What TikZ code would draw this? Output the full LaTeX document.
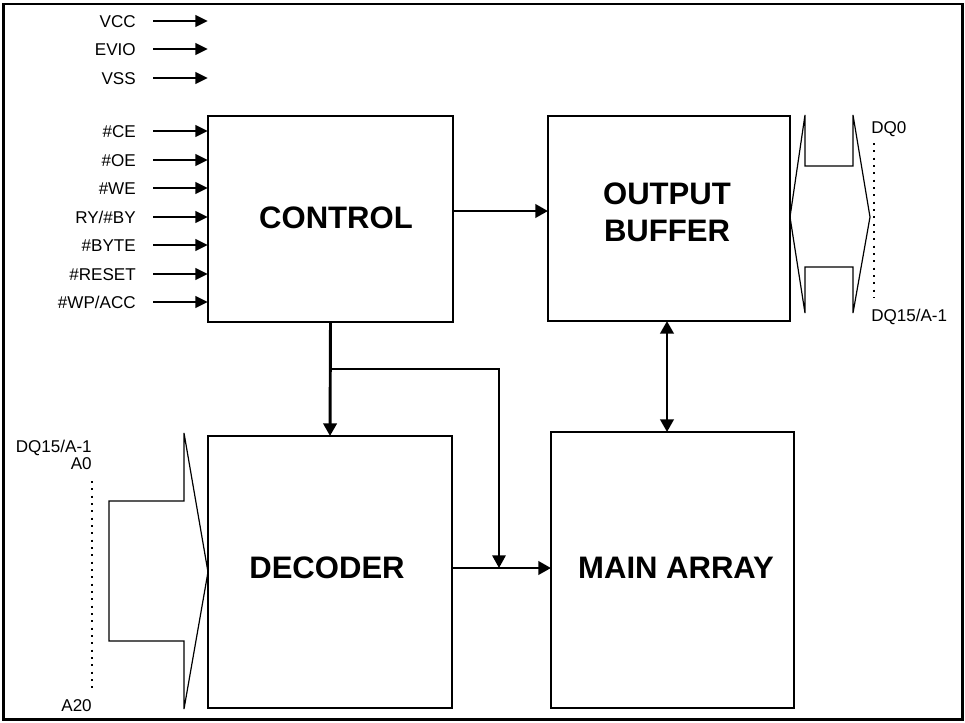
\documentclass[tikz,border=0pt]{standalone}
\usepackage{fontspec}
\setmainfont{Liberation Sans}
\usetikzlibrary{arrows.meta,calc}
\tikzset{
  box/.style={draw, line width=0.9pt, inner sep=0pt, outer sep=0pt},
  bigtxt/.style={font=\fontsize{23.3}{28}\selectfont\bfseries, align=center, inner sep=0pt},
  sig/.style={font=\fontsize{12.8}{15}\selectfont, inner sep=0pt, text height=9pt, text depth=0pt},
  inarr/.style={line width=2.2pt, -{Triangle[length=9.5pt,width=8.5pt]}},
  bigarr/.style={line width=2.2pt, -{Triangle[length=9.5pt,width=10pt]}},
  dblarr/.style={line width=2.2pt, {Triangle[length=9.5pt,width=10pt]}-{Triangle[length=9.5pt,width=10pt]}},
  branch/.style={line width=1.1pt},
  bus/.style={line width=0.9pt, line join=miter},
  dots/.style={line width=1.3pt, dash pattern=on 1.4pt off 4.1pt}
}
\begin{document}
\begin{tikzpicture}[x=0.75pt,y=-0.75pt]
\useasboundingbox (0,0) rectangle (965,722);
\draw[line width=1.7pt] (3.5,4) rectangle (962.5,719.5);

% blocks
\node[box, minimum width=183.75pt, minimum height=154.5pt] (ctrl) at (330.5,219) {};
\node[box, minimum width=181.5pt, minimum height=153.75pt] (obuf) at (669,218.5) {};
\node[box, minimum width=183pt, minimum height=204pt] (dec) at (330,572) {};
\node[box, minimum width=182.25pt, minimum height=207pt] (main) at (672.5,570) {};

\node[bigtxt] (ctrltxt) at (336,218) {CONTROL};
\node[bigtxt] (obuftxt) at (667,212) {OUTPUT\\BUFFER};
\node[bigtxt] (dectxt) at (327,568) {DECODER};
\node[bigtxt] (maintxt) at (676,568) {MAIN ARRAY};

% input signals
\foreach \n/\t/\y in {vcc/VCC/21, evio/EVIO/49, vss/VSS/78,
  ce/{\#CE}/131, oe/{\#OE}/160, we/{\#WE}/188, ry/{RY/\#BY}/217,
  byte/{\#BYTE}/245, reset/{\#RESET}/274, wp/{\#WP/ACC}/302}{
  \node[sig, anchor=east] (\n) at (136,\y) {\t};
  \draw[inarr] ([xshift=12.75pt]\n.east) -- (\n.east -| ctrl.west);
}

% internal connections
\coordinate (c2o) at (453,211);
\draw[bigarr] (c2o) -- (c2o -| obuf.west);
\draw[bigarr] (ctrl.south) -- (dec.north);
\coordinate (br) at (330,369);
\coordinate (d2m) at (452,568);
\coordinate (jn) at (499,568);
\draw[branch] (br) -| ($(jn)+(0,-20)$);
\draw[line width=1.6pt, -{Triangle[length=9.5pt,width=10pt]}] (499,380) -- (jn);
\draw[bigarr] (d2m) -- (d2m -| main.west);
\coordinate (om) at (667,321);
\draw[dblarr] (om |- obuf.south) -- (om |- main.north);

% right data bus
\draw[bus] (obuf.east |- 0,217) -- (805,115) -- (805,166) -- (853,166) -- (853,115)
  -- (870,217) -- (853,313) -- (853,267) -- (805,267) -- (805,313) -- cycle;
\node[sig, anchor=west] (dq0) at (871,127) {DQ0};
\node[sig, anchor=west] (dq15r) at (871,315) {DQ15/A-1};
\draw[dots] (874,143) -- (874,298);

% left address bus
\draw[bus] (184,433) -- (184,501) -- (109,501) -- (109,641) -- (184,641) -- (184,709)
  -- (dec.west) -- cycle;
\node[sig, anchor=east] (dq15l) at (92,446) {DQ15/A-1};
\node[sig, anchor=east] (a0) at (92,463) {A0};
\node[sig, anchor=east] (a20) at (92,705) {A20};
\draw[dots] (92,481) -- (92,688);
\end{tikzpicture}
\end{document}
